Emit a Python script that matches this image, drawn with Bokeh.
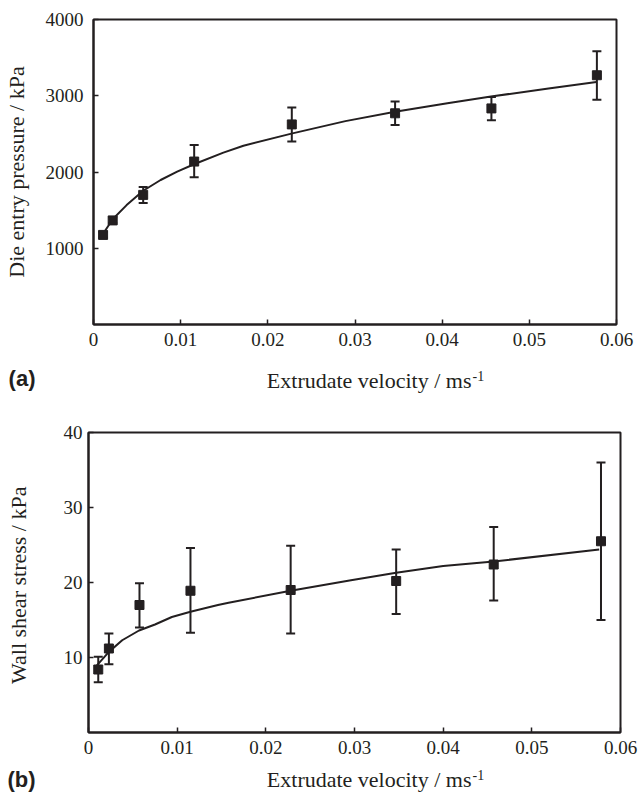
from bokeh.plotting import figure
from bokeh.models import Range1d, FixedTicker, Whisker, TeeHead, ColumnDataSource
from bokeh.core.properties import value
from bokeh.layouts import column
from bokeh.embed import file_html
from bokeh.resources import INLINE

# ---------------- data ----------------
x_ticks = [0, 0.01, 0.02, 0.03, 0.04, 0.05, 0.06]
x_tick_labels = ["0", "0.01", "0.02", "0.03", "0.04", "0.05", "0.06"]
x_label = "Extrudate velocity / ms"
x_label_sup = "-1"

# panel (a): die entry pressure
a_vel = [0.00110, 0.00220, 0.00570, 0.01155, 0.02275, 0.03460, 0.04565, 0.05775]
a_pressure = [1175, 1365, 1700, 2137, 2624, 2770, 2834, 3269]
a_upper = [1215, 1405, 1803, 2355, 2847, 2925, 2985, 3583]
a_lower = [1140, 1330, 1592, 1930, 2400, 2615, 2680, 2946]
a_fit_vel = [0.0011, 0.0022, 0.0038, 0.0057, 0.0077, 0.0096, 0.0116, 0.0149,
             0.0172, 0.0227, 0.0289, 0.0346, 0.0406, 0.0456, 0.0522, 0.0577]
a_fit_pressure = [1190, 1380, 1566, 1754, 1895, 2004, 2105, 2254,
                  2345, 2503, 2667, 2790, 2903, 2990, 3095, 3180]
a_y_ticks = [1000, 2000, 3000, 4000]
a_y_label = "Die entry pressure / kPa"
a_tag = "(a)"

# panel (b): wall shear stress
b_vel = [0.00110, 0.00230, 0.00575, 0.01150, 0.02280, 0.03470, 0.04570, 0.05780]
b_stress = [8.4, 11.2, 17.0, 18.9, 19.0, 20.2, 22.4, 25.5]
b_upper = [10.1, 13.2, 19.9, 24.6, 24.9, 24.4, 27.4, 36.0]
b_lower = [6.7, 9.1, 14.0, 13.3, 13.2, 15.8, 17.6, 15.0]
b_fit_vel = [0.0008, 0.0023, 0.0038, 0.0057, 0.0075, 0.0094, 0.0115, 0.0146,
             0.0158, 0.0228, 0.0296, 0.0347, 0.0400, 0.0457, 0.0576]
b_fit_stress = [8.75, 10.75, 12.3, 13.6, 14.4, 15.4, 16.1, 17.0,
                17.3, 18.9, 20.3, 21.3, 22.2, 22.8, 24.4]
b_y_ticks = [10, 20, 30, 40]
b_y_label = "Wall shear stress  / kPa"
b_tag = "(b)"

INK = "#231f20"
SERIF = "Liberation Serif"
W = 638


def make_panel(vel, val, upper, lower, fit_v, fit_y, y_max, y_ticks, y_label,
               left, frame_w, right, top, frame_h, bottom, tick_standoff_y,
               tick_standoff_x, label_standoff):
    p = figure(frame_width=frame_w, frame_height=frame_h,
               min_border_left=left, min_border_right=right,
               min_border_top=top, min_border_bottom=bottom,
               x_range=Range1d(0, 0.06), y_range=Range1d(0, y_max),
               output_backend="svg", toolbar_location=None,
               background_fill_color="white", border_fill_color="white")
    p.grid.visible = False
    p.outline_line_color = INK
    p.outline_line_width = 2

    for ax in (p.xaxis[0], p.yaxis[0]):
        ax.axis_line_color = INK
        ax.axis_line_width = 2
        ax.major_tick_line_color = INK
        ax.major_tick_line_width = 1.5
        ax.major_tick_in = 5
        ax.major_tick_out = 0
        ax.minor_tick_line_color = None
        ax.major_label_text_font = SERIF
        ax.major_label_text_font_size = "19px"
        ax.major_label_text_color = INK

    p.xaxis.ticker = FixedTicker(ticks=x_ticks)
    p.xaxis.major_label_overrides = dict(zip(x_ticks, x_tick_labels))
    p.xaxis.major_label_standoff = tick_standoff_x

    p.yaxis.ticker = FixedTicker(ticks=y_ticks)
    p.yaxis.major_label_standoff = tick_standoff_y
    p.yaxis.axis_label = y_label
    p.yaxis.axis_label_text_font = SERIF
    p.yaxis.axis_label_text_font_size = "22px"
    p.yaxis.axis_label_text_font_style = "normal"
    p.yaxis.axis_label_text_color = INK
    p.yaxis.axis_label_standoff = label_standoff

    # fitted curve
    p.line(fit_v, fit_y, line_color=INK, line_width=2)

    # error bars
    src = ColumnDataSource(dict(x=vel, y=val, upper=upper, lower=lower))
    p.add_layout(Whisker(source=src, base="x", upper="upper", lower="lower",
                         line_color=INK, line_width=2,
                         upper_head=TeeHead(size=9, line_color=INK, line_width=2),
                         lower_head=TeeHead(size=9, line_color=INK, line_width=2)))

    # markers
    p.scatter("x", "y", source=src, marker="square", size=9,
              fill_color=INK, line_color=INK)
    return p


def make_caption(tag, left, y_top, y_bottom, mid, tag_standoff):
    """Strip below a panel: panel tag (as a horizontal axis title) and x-axis title."""
    h = y_bottom - y_top
    c = figure(frame_width=W - left, frame_height=h,
               min_border_left=left, min_border_right=0,
               min_border_top=0, min_border_bottom=0,
               x_range=Range1d(left, W), y_range=Range1d(y_bottom, y_top),
               x_axis_type=None,
               output_backend="svg", toolbar_location=None,
               background_fill_color="white", border_fill_color="white")
    c.grid.visible = False
    c.outline_line_color = None
    ax = c.yaxis[0]
    ax.ticker = FixedTicker(ticks=[])
    ax.axis_line_color = None
    ax.major_tick_line_color = None
    ax.minor_tick_line_color = None
    ax.major_label_text_font_size = "0px"
    ax.axis_label = tag
    ax.axis_label_orientation = "horizontal"
    ax.axis_label_text_font = "Liberation Sans"
    ax.axis_label_text_font_style = "bold"
    ax.axis_label_text_font_size = "22px"
    ax.axis_label_text_color = INK
    ax.axis_label_standoff = tag_standoff

    junction = 471
    c.text(x=[junction], y=[mid], text=[x_label], text_align="right",
           text_baseline="middle", text_font=value(SERIF),
           text_font_size="22px", text_color=INK)
    c.text(x=[junction + 1], y=[mid - 5], text=[x_label_sup], text_align="left",
           text_baseline="middle", text_font=value(SERIF),
           text_font_size="14px", text_color=INK)
    return c


pa = make_panel(a_vel, a_pressure, a_upper, a_lower, a_fit_vel, a_fit_pressure,
                4000, a_y_ticks, a_y_label,
                left=93, frame_w=523, right=22, top=19, frame_h=305, bottom=36,
                tick_standoff_y=10, tick_standoff_x=8, label_standoff=14)
ca = make_caption(a_tag, 93, 360, 395, 380, 58)
pb = make_panel(b_vel, b_stress, b_upper, b_lower, b_fit_vel, b_fit_stress,
                40, b_y_ticks, b_y_label,
                left=88, frame_w=532, right=18, top=37, frame_h=300, bottom=32,
                tick_standoff_y=6, tick_standoff_x=8, label_standoff=30)
cb = make_caption(b_tag, 88, 764, 794, 779, 53)

layout = column(column(pa, ca, spacing=0), column(pb, cb, spacing=0), spacing=0)
open("out.html", "w").write(file_html(layout, INLINE))
